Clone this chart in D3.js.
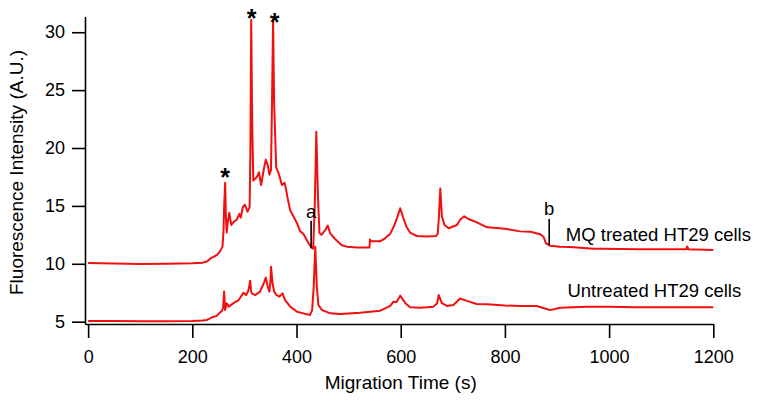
<!DOCTYPE html>
<html>
<head>
<meta charset="utf-8">
<script src="https://cdn.jsdelivr.net/npm/d3@7"></script>
<style>
  html, body { margin: 0; padding: 0; background: #fff; }
  svg { display: block; }
  text { font-family: "Liberation Sans", Arial, sans-serif; fill: #000; }
</style>
</head>
<body>
<svg id="chart" width="762" height="401"></svg>
<script>
// ---------- data ----------
const xTicks = [0, 200, 400, 600, 800, 1000, 1200];
const yTicks = [5, 10, 15, 20, 25, 30];

// MQ treated HT29 cells
const mqTime = [0, 50, 100, 150, 200, 220, 228, 236, 241, 248, 253, 258, 260, 261, 263, 264.5, 266, 268, 271, 273, 275, 279, 285, 290, 293, 297, 301, 306, 310, 311.5, 313, 315, 317, 324, 328, 332, 337, 341, 345, 348, 351, 353, 355, 357, 361, 365, 372, 377, 380, 383, 388, 394, 401, 407, 413, 423, 428, 432, 435, 438, 441, 444, 448, 455, 460, 465, 474, 487, 497, 516, 540, 541, 543, 561, 570, 580, 588, 594, 599, 604, 611, 618, 631, 650, 668, 671, 673, 676, 679, 684, 692, 708, 714, 722, 730, 745, 766, 785, 804, 829, 849, 868, 874, 879, 887, 906, 925, 970, 990, 1054, 1100, 1148, 1150, 1152, 1200];
const mqIntensity = [10.07, 10.03, 9.98, 10.0, 10.05, 10.1, 10.2, 10.5, 10.6, 10.8, 11.05, 11.5, 13.0, 14.9, 17.0, 14.0, 12.7, 13.6, 14.4, 13.8, 13.35, 13.6, 13.8, 14.3, 14.0, 14.9, 15.1, 14.5, 14.9, 20.0, 31.05, 22.0, 17.2, 17.5, 17.9, 16.8, 18.1, 19.0, 18.5, 17.7, 18.1, 24.0, 31.05, 24.0, 18.3, 17.9, 16.8, 17.0, 16.4, 15.65, 14.6, 14.1, 13.5, 12.8, 12.6, 11.8, 11.45, 11.3, 15.0, 21.4, 16.0, 12.66, 12.5, 12.9, 13.3, 12.6, 12.14, 11.6, 11.48, 11.4, 11.4, 12.1, 11.95, 11.95, 12.2, 12.6, 13.35, 14.1, 14.8, 14.1, 13.2, 12.7, 12.4, 12.35, 12.4, 12.6, 13.8, 16.5, 14.1, 13.35, 13.07, 13.35, 13.8, 14.1, 13.87, 13.6, 13.15, 13.1, 13.0, 12.8, 12.77, 12.55, 12.34, 11.77, 11.56, 11.48, 11.45, 11.3, 11.3, 11.25, 11.25, 11.25, 11.5, 11.25, 11.2];

// Untreated HT29 cells
const untTime = [0, 50, 100, 150, 200, 220, 228, 238, 247, 250, 257, 259, 261, 263, 266, 270, 279, 289, 298, 303, 307, 309, 311, 313, 314, 321, 330, 337, 341, 345, 348, 350, 351, 354, 357, 362, 367, 373, 378, 388, 401, 413, 426, 430, 433, 436, 439, 442, 449, 465, 484, 522, 561, 580, 586, 592, 599, 609, 618, 637, 663, 670, 673, 679, 689, 701, 714, 727, 746, 766, 800, 829, 861, 880, 887, 906, 957, 1000, 1050, 1100, 1200];
const untIntensity = [5.06, 5.05, 5.03, 5.04, 5.06, 5.1, 5.15, 5.38, 5.5, 5.66, 5.95, 6.2, 7.6, 6.0, 6.6, 6.3, 6.6, 6.87, 7.5, 7.3, 7.6, 8.0, 8.54, 7.6, 7.45, 7.3, 7.6, 8.3, 8.8, 8.0, 7.6, 8.5, 9.75, 8.3, 7.6, 7.3, 7.16, 7.45, 6.87, 6.3, 5.86, 5.72, 5.58, 6.0, 8.0, 11.48, 8.0, 6.44, 6.0, 5.72, 5.66, 5.78, 5.95, 6.36, 6.73, 6.7, 7.25, 6.6, 6.24, 6.2, 6.3, 6.6, 7.3, 6.6, 6.36, 6.44, 7.0, 6.8, 6.53, 6.5, 6.4, 6.36, 6.36, 6.1, 6.0, 6.2, 6.3, 6.3, 6.25, 6.24, 6.24];

// annotations (data coordinates)
const starTimes = [263, 314, 358];
const starValues = [17.9, 31.65, 31.3];
const markerLabels = ["a", "b"];
const markerTimes = [428, 885];
const markerLow = [11.35, 11.62];
const markerHigh = [13.72, 13.86];
const markerTextValue = [13.95, 14.22];
const seriesLabels = ["MQ treated HT29 cells", "Untreated HT29 cells"];
const seriesLabelTime = [917, 920];
const seriesLabelValue = [12.0, 7.09];

const xTitle = "Migration Time (s)";
const yTitle = "Fluorescence Intensity (A.U.)";

// ---------- drawing ----------
const svg = d3.select("#chart");
const x = d3.scaleLinear().domain([-6, 1200]).range([85, 713.3]);
const y = d3.scaleLinear().domain([4.8, 31.35]).range([324, 16.6]);

const red = "#f20f0f";
const line = d3.line().x(d => x(d[0])).y(d => y(d[1]));

function draw(times, vals) {
  const pts = times.map((t, i) => [t, vals[i]]);
  svg.append("path")
    .datum(pts)
    .attr("d", line)
    .attr("fill", "none")
    .attr("stroke", red)
    .attr("stroke-width", 2)
    .attr("stroke-linejoin", "round");
}
draw(untTime, untIntensity);
draw(mqTime, mqIntensity);

// axes
const fmt = d3.format("d");
const xAxis = d3.axisBottom(x).tickValues(xTicks).tickFormat(fmt).tickSize(14).tickSizeOuter(0).tickPadding(12.5);
const gx = svg.append("g").attr("transform", `translate(0,${y(4.8)})`).call(xAxis);
gx.selectAll("text").style("font-size", "18px").style("font-family", '"Liberation Sans", Arial, sans-serif');

const yAxis = d3.axisLeft(y).tickValues(yTicks).tickFormat(fmt).tickSize(13).tickSizeOuter(0).tickPadding(7);
const gy = svg.append("g").attr("transform", `translate(${x(-6)},0)`).call(yAxis);
gy.selectAll("text").style("font-size", "18px").style("font-family", '"Liberation Sans", Arial, sans-serif');

[gx, gy].forEach(g => {
  g.select(".domain").attr("stroke", "#000").attr("stroke-width", 1.6);
  g.selectAll(".tick line").attr("stroke", "#000").attr("stroke-width", 1.6);
});

// axis titles
svg.append("text")
  .attr("x", (x(0) + x(1200)) / 2)
  .attr("y", 388.5)
  .attr("text-anchor", "middle")
  .style("font-size", "19px")
  .text(xTitle);

svg.append("text")
  .attr("transform", `translate(23,172.5) rotate(-90)`)
  .attr("text-anchor", "middle")
  .style("font-size", "19px")
  .text(yTitle);

// stars
svg.selectAll("text.star")
  .data(starTimes)
  .join("text")
  .attr("class", "star")
  .attr("x", (d) => x(d))
  .attr("y", (d, i) => y(starValues[i]) + 14)
  .attr("text-anchor", "middle")
  .style("font-size", "25px")
  .style("font-weight", "bold")
  .text("*");

// markers a, b
markerTimes.forEach((t, i) => {
  svg.append("line")
    .attr("x1", x(t)).attr("x2", x(t))
    .attr("y1", y(markerLow[i])).attr("y2", y(markerHigh[i]))
    .attr("stroke", "#000").attr("stroke-width", 1.6);
  svg.append("text")
    .attr("x", x(t))
    .attr("y", y(markerTextValue[i]))
    .attr("text-anchor", "middle")
    .style("font-size", "18.5px")
    .text(markerLabels[i]);
});

// series labels
seriesLabels.forEach((s, i) => {
  svg.append("text")
    .attr("x", x(seriesLabelTime[i]))
    .attr("y", y(seriesLabelValue[i]))
    .style("font-size", "18.5px")
    .text(s);
});
</script>
</body>
</html>
